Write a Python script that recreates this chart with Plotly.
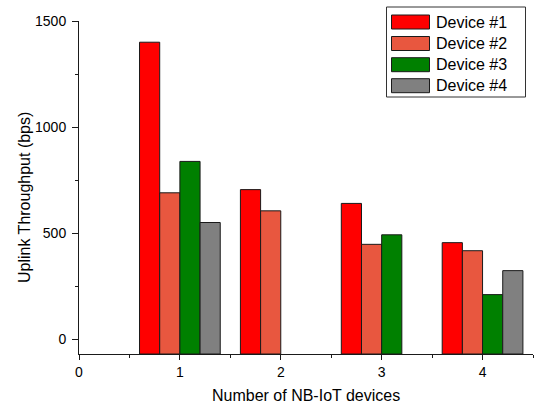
import plotly.graph_objects as go

# ---- data ----
groups = [1, 2, 3, 4]
series_names = ["Device #1", "Device #2", "Device #3", "Device #4"]
device1 = [1400, 705, 640, 455]
device2 = [690, 605, 447, 417]
device3 = [838, None, 492, 210]
device4 = [550, None, None, 323]
x_ticks = [0, 1, 2, 3, 4]
y_ticks = [0, 500, 1000, 1500]

colors = ["#FF0000", "#E8573F", "#008000", "#808080"]
Y_MIN, Y_MAX = -70, 1500
X_MIN, X_MAX = 0, 4.5

W, H = 536, 404
ML, MR, MT, MB = 79, 3, 21, 50
PW = W - ML - MR
PH = H - MT - MB

FONT = "Arial, Liberation Sans, sans-serif"

fig = go.Figure()
for name, vals, col in zip(series_names, [device1, device2, device3, device4], colors):
    fig.add_trace(go.Bar(
        x=groups,
        y=[(v - Y_MIN) if v is not None else None for v in vals],
        base=Y_MIN,
        name=name,
        marker=dict(color=col, line=dict(color="#1a1a1a", width=1)),
        showlegend=False,
    ))

def px_x(p):
    return (p - ML) / PW

def px_y(p):
    return (H - MB - p) / PH

shapes = []
annotations = []
# legend box
shapes.append(dict(type="rect", xref="paper", yref="paper",
                   x0=px_x(386.5), x1=px_x(525.5), y0=px_y(97), y1=px_y(7),
                   line=dict(color="#333333", width=1), fillcolor="white", layer="above"))
row_centers = [22, 43.5, 64.7, 85.7]
for name, col, cy in zip(series_names, colors, row_centers):
    shapes.append(dict(type="rect", xref="paper", yref="paper",
                       x0=px_x(391.5), x1=px_x(429.5), y0=px_y(cy + 7), y1=px_y(cy - 7),
                       line=dict(color="#1a1a1a", width=1), fillcolor=col, layer="above"))
    annotations.append(dict(xref="paper", yref="paper", x=px_x(434), y=px_y(cy),
                            xanchor="left", yanchor="middle", showarrow=False,
                            text=name, font=dict(family=FONT, size=16, color="black")))

# axis titles
annotations.append(dict(xref="paper", yref="paper", x=px_x(306), y=px_y(395),
                        xanchor="center", yanchor="middle", showarrow=False,
                        text="Number of NB-IoT devices",
                        font=dict(family=FONT, size=16, color="black")))
annotations.append(dict(xref="paper", yref="paper", x=px_x(24), y=px_y(198),
                        xanchor="center", yanchor="middle", showarrow=False, textangle=-90,
                        text="Uplink Throughput (bps)",
                        font=dict(family=FONT, size=16, color="black")))

fig.update_layout(
    width=W, height=H,
    margin=dict(l=ML, r=MR, t=MT, b=MB, pad=0),
    paper_bgcolor="white", plot_bgcolor="white",
    barmode="group", bargap=0.2, bargroupgap=0,
    font=dict(family=FONT, size=14, color="black"),
    shapes=shapes, annotations=annotations,
    showlegend=False,
)
fig.update_xaxes(
    range=[X_MIN, X_MAX], tickvals=x_ticks, ticktext=[str(t) for t in x_ticks],
    showline=True, linecolor="#1a1a1a", linewidth=1, mirror=False,
    ticks="outside", ticklen=5, tickwidth=1, tickcolor="#1a1a1a",
    minor=dict(dtick=0.5, tick0=0, ticks="outside", ticklen=3, tickcolor="#1a1a1a"),
    showgrid=False, zeroline=False, tickfont=dict(size=14),
)
fig.update_yaxes(
    range=[Y_MIN, Y_MAX], tickvals=y_ticks, ticktext=[str(t) for t in y_ticks],
    showline=True, linecolor="#1a1a1a", linewidth=1, mirror=False,
    ticks="outside", ticklen=6, tickwidth=1, tickcolor="#1a1a1a",
    minor=dict(dtick=250, tick0=0, ticks="outside", ticklen=3, tickcolor="#1a1a1a"),
    showgrid=False, zeroline=False, tickfont=dict(size=14), ticklabelstandoff=3,
)

fig.write_html("out.html", config={"displayModeBar": False},
               post_script="document.body.style.margin='0';document.body.style.padding='0';")
